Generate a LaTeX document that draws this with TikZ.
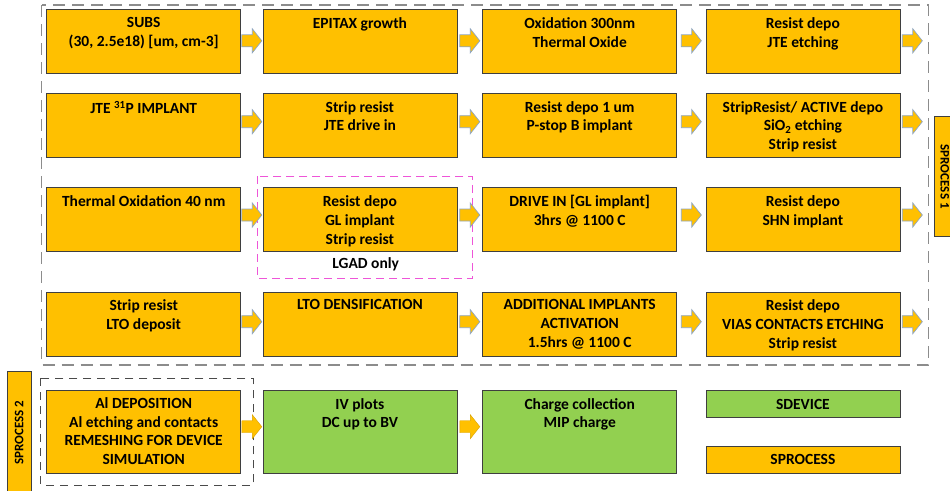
\documentclass[tikz,border=0pt]{standalone}
\usepackage{fontspec}
\setmainfont{Carlito}
\usetikzlibrary{calc}
\definecolor{gold}{HTML}{FFC000}
\definecolor{lgreen}{HTML}{92D050}
\definecolor{edge}{HTML}{3F3F3F}
\definecolor{arrowedge}{HTML}{8EA6C2}
\definecolor{dashgray}{HTML}{8C8C8C}
\definecolor{sp2gray}{HTML}{4A4A4A}
\definecolor{lgadpink}{HTML}{EE55D8}
\tikzset{
  stepbox/.style={draw=edge, fill=gold, line width=0.8pt, minimum width=194pt, minimum height=64pt, inner sep=0pt},
  devbox/.style={stepbox, fill=lgreen},
  txt/.style={font=\bfseries\fontsize{15.5}{18.8}\selectfont, align=center, inner sep=0pt, text=black},
  sidelabel/.style={draw=edge, fill=gold, line width=0.8pt, inner sep=0pt, font=\bfseries\fontsize{13}{15}\selectfont},
  arrowsty/.style={draw=arrowedge, fill=gold, line width=0.7pt, line join=miter},
  arrowsty2/.style={draw=gold!85!black, fill=gold, line width=0.4pt},
  pics/barrow/.style={code={\draw[arrowsty] (-10,-6) -- (0.5,-6) -- (0.5,-12) -- (10,0) -- (0.5,12) -- (0.5,6) -- (-10,6) -- cycle;}},
  pics/barrowb/.style={code={\draw[arrowsty2] (-10,-6) -- (0.5,-6) -- (0.5,-12) -- (10,0) -- (0.5,12) -- (0.5,6) -- (-10,6) -- cycle;}},
  outerdash/.style={draw=dashgray, line width=1.2pt, dash pattern=on 12pt off 7pt},
  innerdash/.style={draw=sp2gray, line width=1pt, dash pattern=on 8pt off 6pt},
  lgaddash/.style={draw=lgadpink, line width=1pt, dash pattern=on 8pt off 5pt}
}
\newcommand\stepnode[6]{% style, name, x, y, top offset, text
  \node[#1] (#2) at (#3,#4) {};
  \node[txt, anchor=north] (#2t) at ($(#2.north)+(0,#5)$) {#6};}
\newcommand\rarrow[3]{\pic at ($(#1.east)!0.5!(#2.west)+(0,#3)$) {barrow};}
\begin{document}
\begin{tikzpicture}[x=1pt,y=-1pt]
\useasboundingbox (0,0) rectangle (950,490);
\fill[white] (0,0) rectangle (950,490);

% group frames
\draw[outerdash] (41.7,5) rectangle (928.3,365);
\draw[innerdash] (40.7,378.3) rectangle (253.3,485);
\draw[lgaddash] (257.7,176) rectangle (472.7,278.3);

% row 1
\stepnode{stepbox}{b11}{143.7}{41.3}{8.7}{SUBS\\(30, 2.5e18) [um, cm-3]}
\stepnode{stepbox}{b12}{359.9}{41.3}{8.7}{EPITAX growth}
\stepnode{stepbox}{b13}{579.7}{41.3}{8.7}{Oxidation 300nm\\Thermal Oxide}
\stepnode{stepbox}{b14}{802.9}{41.3}{8.7}{Resist depo\\JTE etching}
% row 2
\stepnode{stepbox}{b21}{143.7}{125}{8.2}{JTE \textsuperscript{31}P IMPLANT}
\stepnode{stepbox}{b22}{359.9}{125}{8.5}{Strip resist\\JTE drive in}
\stepnode{stepbox}{b23}{579.7}{125}{8.5}{Resist depo 1 um\\P-stop B implant}
\stepnode{stepbox}{b24}{802.9}{125}{8.5}{StripResist/ ACTIVE depo\\SiO\textsubscript{2} etching\\Strip resist}
% row 3
\stepnode{stepbox}{b31}{143.7}{219.7}{8.5}{Thermal Oxidation 40 nm}
\stepnode{stepbox}{b32}{359.9}{219.7}{8.5}{Resist depo\\GL implant\\Strip resist}
\stepnode{stepbox}{b33}{579.7}{219.7}{8}{DRIVE IN [GL implant]\\3hrs @ 1100 C}
\stepnode{stepbox}{b34}{802.9}{219.7}{8.5}{Resist depo\\SHN implant}
\node[txt] (lgad) at (365.7,264) {LGAD only};
% row 4
\stepnode{stepbox}{b41}{143.7}{323.9}{8}{Strip resist\\LTO deposit}
\stepnode{stepbox}{b42}{359.9}{323.9}{8}{LTO DENSIFICATION}
\stepnode{stepbox}{b43}{579.7}{323.9}{8}{ADDITIONAL IMPLANTS\\ACTIVATION\\1.5hrs @ 1100 C}
\stepnode{stepbox}{b44}{802.9}{323.9}{8}{Resist depo\\VIAS CONTACTS ETCHING\\Strip resist}
% row 5
\stepnode{stepbox, minimum height=83.3pt}{b51}{143.7}{431.7}{7.5}{Al DEPOSITION\\Al etching and contacts\\REMESHING FOR DEVICE\\SIMULATION}
\stepnode{devbox, minimum height=83.3pt}{b52}{359.9}{431.7}{8.3}{IV plots\\DC up to BV}
\stepnode{devbox, minimum height=83.3pt}{b53}{579.7}{431.7}{8.3}{Charge collection\\MIP charge}

% legend
\node[devbox, minimum height=26.7pt, font=\bfseries\fontsize{15.5}{18}\selectfont] (sdev) at (802.9,404) {SDEVICE};
\node[stepbox, minimum height=27.3pt, font=\bfseries\fontsize{15.5}{18}\selectfont] (sproc) at (802.9,459.7) {SPROCESS};

% side labels
\node[sidelabel, rotate=-90, minimum width=120pt, minimum height=21pt] (sp1) at (944.8,176.7) {SPROCESS 1};
\node[sidelabel, rotate=90, minimum width=122pt, minimum height=23.7pt] (sp2) at (19.2,432.7) {SPROCESS 2};

% arrows
\rarrow{b11}{b12}{-0.5}
\rarrow{b12}{b13}{-0.5}
\rarrow{b13}{b14}{-0.5}
\pic at ($(b14.east)+(12,-0.5)$) {barrow};
\rarrow{b21}{b22}{-3.3}
\rarrow{b22}{b23}{-3.3}
\rarrow{b23}{b24}{-3.3}
\pic at ($(b24.east)+(12,-3.3)$) {barrow};
\rarrow{b31}{b32}{-4.7}
\rarrow{b32}{b33}{-4.7}
\rarrow{b33}{b34}{-4.7}
\pic at ($(b34.east)+(12,-4.7)$) {barrow};
\rarrow{b41}{b42}{-2.2}
\rarrow{b42}{b43}{-2.2}
\rarrow{b43}{b44}{-2.2}
\pic at ($(b44.east)+(12,-2.2)$) {barrow};
\pic at ($(b51.east)!0.5!(b52.west)+(0,-5)$) {barrowb};
\pic at ($(b52.east)!0.5!(b53.west)+(0,-5)$) {barrowb};
\end{tikzpicture}
\end{document}
